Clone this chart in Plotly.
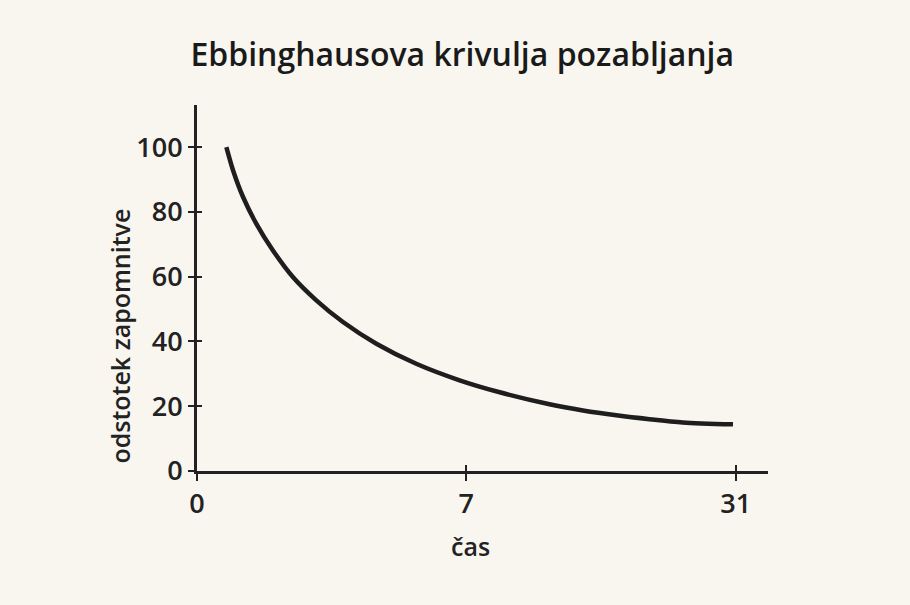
import plotly.graph_objects as go

# Data (x given in axis-position units: 0 -> day 0, 1 -> day 7, 2 -> day 31)
curve_x = [0.109, 0.134, 0.171, 0.220, 0.282, 0.356, 0.443, 0.542, 0.666, 0.814,
           0.975, 1.124, 1.309, 1.433, 1.557, 1.680, 1.804, 1.990]
curve_y = [100, 92.8, 84.6, 76.4, 68.1, 59.9, 52.7, 46.0, 39.3, 33.1,
           28.0, 24.3, 20.6, 18.7, 17.2, 16.0, 15.0, 14.4]
x_tick_pos = [0, 1, 2]
x_tick_text = ["0", "7", "31"]
y_ticks = [0, 20, 40, 60, 80, 100]

title = "Ebbinghausova krivulja pozabljanja"
x_title = "čas"
y_title = "odstotek zapomnitve"

ink = "#222222"
bg = "#f9f6ef"
font = "Open Sans"

fig = go.Figure()
fig.add_trace(go.Scatter(x=curve_x, y=curve_y, mode="lines",
                         line=dict(color="#1e1e1e", width=4.5, shape="spline", smoothing=0.8),
                         hoverinfo="skip", showlegend=False))
# invisible trace on overlay axes to show crossing ticks
fig.add_trace(go.Scatter(x=[0], y=[0], xaxis="x2", yaxis="y2", mode="markers",
                         marker=dict(opacity=0), showlegend=False, hoverinfo="skip"))

xr = [0, 2.12]
yr = [0, 113]
fig.update_layout(
    width=910, height=605,
    paper_bgcolor=bg, plot_bgcolor=bg,
    margin=dict(l=197, r=142, t=105, b=134),
    title=dict(text=title, x=0.508, xanchor="center", y=0.91, yanchor="middle",
               font=dict(family=font, size=32, color="#1a1a1a", weight=600)),
    font=dict(family=font, color=ink),
    xaxis=dict(range=xr, tickvals=x_tick_pos, ticktext=x_tick_text, showgrid=False,
               zeroline=False, showline=True, linecolor=ink, linewidth=2.8,
               ticks="outside", ticklen=7, tickwidth=2, tickcolor=ink,
               tickfont=dict(size=27, color=ink, weight=600)),
    yaxis=dict(range=yr, tickvals=y_ticks, showgrid=False, zeroline=False,
               showline=True, linecolor=ink, linewidth=2.8,
               ticks="outside", ticklen=6, tickwidth=2, tickcolor=ink,
               tickfont=dict(size=27, color=ink, weight=600)),
    xaxis2=dict(range=xr, overlaying="x", tickvals=x_tick_pos[1:], showticklabels=False,
                showgrid=False, zeroline=False, showline=False,
                ticks="inside", ticklen=6, tickwidth=2, tickcolor=ink),
    yaxis2=dict(range=yr, overlaying="y", tickvals=y_ticks[1:], showticklabels=False,
                showgrid=False, zeroline=False, showline=False,
                ticks="inside", ticklen=5, tickwidth=2, tickcolor=ink),
    annotations=[
        dict(text=y_title, textangle=-90, xref="paper", yref="y", x=0, y=41.5,
             xanchor="center", yanchor="middle", xshift=-77, showarrow=False,
             font=dict(family=font, size=25, color=ink, weight=600)),
        dict(text=x_title, xref="x", yref="paper", x=x_tick_pos[1], y=0,
             xanchor="center", yanchor="middle", xshift=4, yshift=-75, showarrow=False,
             font=dict(family=font, size=25, color=ink, weight=600)),
    ],
)
fig.write_html("out.html", config={"displayModeBar": False},
               post_script="document.body.style.margin='0';document.body.style.background='%s';" % bg)
